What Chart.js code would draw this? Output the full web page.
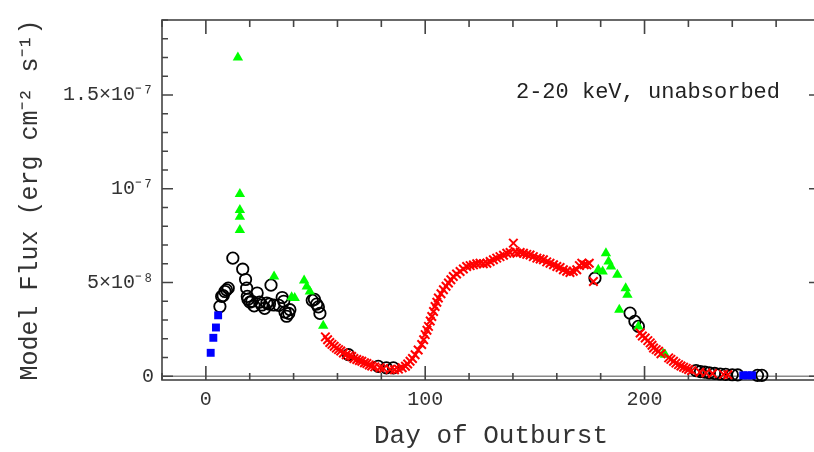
<!DOCTYPE html>
<html>
<head>
<meta charset="utf-8">
<script src="https://cdn.jsdelivr.net/npm/chart.js@4.4.1/dist/chart.umd.min.js"></script>
<style>
  html, body { margin: 0; padding: 0; background: #fff; overflow: hidden; }
  #wrap { width: 814px; height: 452px; overflow: hidden; }
  canvas { display: block; }
</style>
</head>
<body>
<div id="wrap"><canvas id="flux" width="830" height="452"></canvas></div>
<script>
// flux values in units of 1e-8 erg cm^-2 s^-1
const blueDay  = [2.2, 3.4, 4.6, 5.6, 245, 247, 249];
const blueFlux = [1.25, 2.05, 2.6, 3.25, 0.05, 0.05, 0.05];

const blackDay  = [6.4, 7.2, 7.9, 8.7, 9.4, 10.2, 12.3, 16.8, 18.1, 18.6, 18.9, 19.2, 20.1, 21.0, 22.0,
                   23.4, 24.5, 25.5, 26.8, 27.8, 29.0, 29.7, 31.0, 33.3, 34.8, 35.5, 36.1, 36.8, 37.8, 38.3,
                   48.5, 49.5, 50.5, 51.3, 52.0, 65.0, 78.6, 82.3, 85.5,
                   177.4, 193.4, 195.6, 197.2,
                   223.5, 225.5, 227.5, 229.5, 232, 234.5, 237, 240, 242.5, 251.5, 253.5];
const blackFlux = [3.72, 4.26, 4.3, 4.52, 4.61, 4.7, 6.3, 5.71, 5.16, 4.7, 4.26, 4.1, 3.95, 4.0, 3.75,
                   4.44, 3.95, 3.8, 3.62, 3.9, 3.85, 4.86, 3.8, 3.78, 4.2, 4.0, 3.42, 3.2, 3.35, 3.55,
                   4.05, 4.1, 3.85, 3.7, 3.35, 1.15, 0.53, 0.45, 0.45,
                   5.23, 3.37, 2.93, 2.66,
                   0.3, 0.25, 0.22, 0.18, 0.15, 0.12, 0.1, 0.08, 0.07, 0.05, 0.05];

const greenDay  = [14.6, 15.5, 15.5, 15.5, 15.5, 31.1, 39.1, 40.5, 44.8, 46.0, 47.4, 53.5,
                   178.9, 180.9, 182.4, 183.6, 184.7, 187.6, 188.5, 191.4, 192.2, 197.2, 208.5, 209.4];
const greenFlux = [17.0, 9.72, 8.87, 8.51, 7.8, 5.32, 4.22, 4.17, 5.11, 4.79, 4.52, 2.7,
                   5.68, 5.59, 6.56, 6.12, 5.85, 5.41, 3.55, 4.7, 4.35, 2.66, 1.2, 1.15];

const redDay  = [54.5, 55.5, 56.5, 57.5, 58.5, 59.5, 60.5, 61.5, 62.7, 64, 65.5, 66.5, 67.5, 68.8, 70,
                 71.1, 72.3, 73.4, 74.5, 75.6, 77, 79.4, 81, 84, 86, 87.8, 89.5, 91, 92, 93.1,
                 94.2, 95.4, 96.8, 98.4, 99.3, 100, 100.8, 101.5, 102.3, 103, 103.8, 104.5, 105.3, 106, 107.2,
                 108.3, 109.5, 110.6, 111.7, 112.8, 114.3, 115.9, 117.4, 118.9, 120.5, 122, 123.5, 125, 126.5, 128.1,
                 129.6, 131.1, 132.6, 134.1, 135.7, 137.2, 138.7, 140.2, 141.0, 141.8, 143.3, 144.8, 146.3, 147.8, 149.3,
                 150.9, 152.4, 153.9, 155.4, 156.9, 158.5, 160, 161.5, 163, 164.5, 166, 167.5, 169.1, 170.3, 171.4,
                 172.5, 173.7, 174.8, 176.7,
                 198, 199, 200.3, 201.5, 202.6, 203.4, 204.1, 205.3, 206.4, 207.5, 211, 212, 213.2, 214.3, 215.5,
                 216.6, 217.8, 219, 220.1, 221.5, 225.3, 228, 231, 236, 238];
const redFlux = [2.1, 1.95, 1.8, 1.7, 1.6, 1.5, 1.42, 1.35, 1.24, 1.15, 1.1, 1.05, 0.95, 0.89, 0.84,
                 0.8, 0.72, 0.68, 0.6, 0.55, 0.5, 0.45, 0.42, 0.36, 0.35, 0.38, 0.45, 0.53, 0.65, 0.8,
                 0.95, 1.15, 1.4, 1.69, 1.95, 2.22, 2.45, 2.66, 2.95, 3.19, 3.45, 3.72, 3.95, 4.17, 4.4,
                 4.61, 4.8, 4.97, 5.15, 5.32, 5.45, 5.59, 5.72, 5.85, 5.9, 5.94, 6.0, 6.03, 6.0, 6.03,
                 6.12, 6.21, 6.3, 6.38, 6.45, 6.56, 6.6, 7.1, 6.65, 6.56, 6.6, 6.56, 6.5, 6.47, 6.38,
                 6.3, 6.25, 6.21, 6.1, 6.03, 5.95, 5.85, 5.8, 5.68, 5.6, 5.53, 5.6, 5.68, 5.9, 6.03,
                 5.95, 5.94, 6.03, 5.05,
                 2.31, 2.15, 2.04, 1.9, 1.78, 1.65, 1.51, 1.42, 1.33, 1.2, 0.98, 0.9, 0.8, 0.7, 0.62,
                 0.55, 0.48, 0.42, 0.36, 0.3, 0.21, 0.18, 0.15, 0.1, 0.08];

const xTicks = [0, 100, 200];
const yTicks = [0, 5, 10, 15];
const yTickLabels = ["0", "5×10⁻⁸", "10⁻⁷", "1.5×10⁻⁷"];
const annotation = "2-20 keV, unabsorbed";

const toPoints = (days, flux) => days.map((d, i) => ({ x: d, y: flux[i] }));
const ink = '#333';
const mono = 'Liberation Mono';

// box, inward ticks and the zero line, drawn under the points
const framePlugin = {
  id: 'frame',
  beforeDatasetsDraw(chart) {
    const { ctx, chartArea: a, scales: { x, y } } = chart;
    ctx.save();
    ctx.strokeStyle = '#888';
    ctx.lineWidth = 1.5;
    const y0 = y.getPixelForValue(0);
    ctx.beginPath();
    ctx.moveTo(a.left, y0); ctx.lineTo(a.right, y0);
    ctx.stroke();

    ctx.strokeStyle = '#444';
    ctx.lineWidth = 1.6;
    ctx.strokeRect(a.left, a.top, a.right - a.left, a.bottom - a.top);
    ctx.beginPath();
    for (let v = -20; v <= 280; v += 20) {
      const px = x.getPixelForValue(v);
      const len = v % 100 === 0 ? 14 : 7;
      ctx.moveTo(px, a.bottom); ctx.lineTo(px, a.bottom - len);
      ctx.moveTo(px, a.top); ctx.lineTo(px, a.top + len);
    }
    for (let v = 0; v <= 19; v += 1) {
      const py = y.getPixelForValue(v);
      const len = v % 5 === 0 ? 11 : 6;
      ctx.moveTo(a.left, py); ctx.lineTo(a.left + len, py);
      ctx.moveTo(a.right, py); ctx.lineTo(a.right - len, py);
    }
    ctx.stroke();
    ctx.restore();
  },
  afterDraw(chart) {
    const { ctx } = chart;
    ctx.save();
    ctx.font = '22px "' + mono + '"';
    ctx.fillStyle = '#222';
    ctx.textAlign = 'right';
    ctx.textBaseline = 'middle';
    ctx.fillText(annotation, 780, 92);
    ctx.restore();
  }
};

new Chart(document.getElementById('flux'), {
  type: 'scatter',
  data: {
    datasets: [
      { label: 'blue', data: toPoints(blueDay, blueFlux), pointStyle: 'rect', pointRadius: 5.6,
        backgroundColor: '#0000ff', borderColor: '#0000ff', borderWidth: 0, clip: false },
      { label: 'red', data: toPoints(redDay, redFlux), pointStyle: 'crossRot', pointRadius: 6,
        borderColor: '#ff0000', borderWidth: 2, clip: false },
      { label: 'green', data: toPoints(greenDay, greenFlux), pointStyle: 'triangle', pointRadius: 6,
        backgroundColor: '#00ff00', borderColor: '#00ff00', borderWidth: 0, clip: false },
      { label: 'black', data: toPoints(blackDay, blackFlux), pointStyle: 'circle', pointRadius: 5.7,
        backgroundColor: 'rgba(0,0,0,0)', borderColor: '#000', borderWidth: 1.8, clip: false }
    ]
  },
  options: {
    responsive: false,
    animation: false,
    layout: { padding: { top: 19, right: 10, left: 0, bottom: 0 } },
    plugins: { legend: { display: false }, tooltip: { enabled: false } },
    scales: {
      x: {
        type: 'linear', min: -20, max: 280,
        afterFit: s => { s.height = 72; },
        afterBuildTicks: s => { s.ticks = xTicks.map(v => ({ value: v })); },
        grid: { display: false, drawTicks: false },
        border: { display: false },
        ticks: { padding: 8, maxRotation: 0, color: ink, font: { family: mono, size: 20 },
                 callback: v => String(v) },
        title: { display: true, text: 'Day of Outburst', color: ink,
                 font: { family: mono, size: 26 }, padding: { top: 0, bottom: 0 } }
      },
      y: {
        type: 'linear', min: -0.2, max: 19,
        afterFit: s => { s.width = 162; },
        afterBuildTicks: s => { s.ticks = yTicks.map(v => ({ value: v })); },
        grid: { display: false, drawTicks: false },
        border: { display: false },
        ticks: { padding: 8, color: ink, font: { family: mono, size: 20 },
                 callback: v => yTickLabels[yTicks.indexOf(v)] },
        title: { display: true, text: 'Model Flux (erg cm⁻² s⁻¹)', color: ink,
                 font: { family: mono, size: 25 }, padding: { top: 15, bottom: 0 } }
      }
    }
  },
  plugins: [framePlugin]
});
</script>
</body>
</html>
